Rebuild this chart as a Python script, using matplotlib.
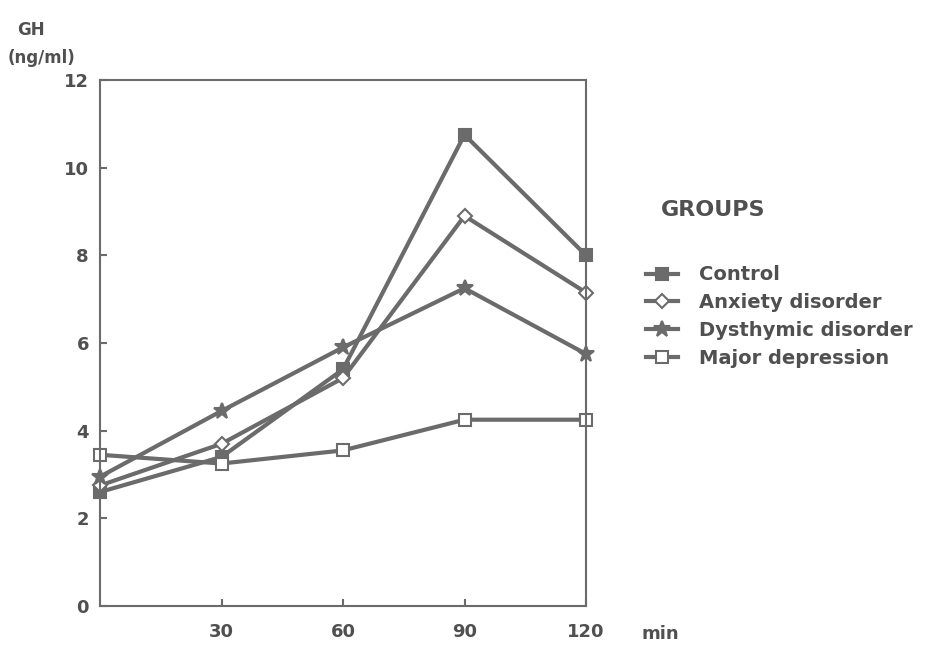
import matplotlib
matplotlib.use('Agg')
import matplotlib.pyplot as plt

### data
minutes = [0, 30, 60, 90, 120]
groups = ['Control', 'Anxiety disorder', 'Dysthymic disorder', 'Major depression']
control = [2.6, 3.4, 5.4, 10.75, 8.0]
anxiety = [2.75, 3.7, 5.2, 8.9, 7.15]
dysthymic = [2.95, 4.45, 5.9, 7.25, 5.75]
major_dep = [3.45, 3.25, 3.55, 4.25, 4.25]

xticks = [30, 60, 90, 120]
yticks = [0, 2, 4, 6, 8, 10, 12]

### style
gray = '#6b6b6b'
txt = '#505050'
plt.rcParams['font.family'] = ['DejaVu Sans']
plt.rcParams['font.weight'] = 'bold'

fig = plt.figure(figsize=(9.27, 6.48), dpi=100)
ax = fig.add_axes([100 / 927, 42 / 648, 486 / 927, 526 / 648])

series = [control, anxiety, dysthymic, major_dep]
markers = [
    dict(marker='s', markerfacecolor=gray, markersize=8),
    dict(marker='D', markerfacecolor='white', markersize=7.5),
    dict(marker='*', markerfacecolor=gray, markersize=12),
    dict(marker='s', markerfacecolor='white', markersize=9),
]
for vals, name, mk in zip(series, groups, markers):
    ax.plot(minutes, vals, color=gray, linewidth=3.0, markeredgecolor=gray,
            markeredgewidth=1.5, label=name, clip_on=False, **mk)

ax.set_xlim(0, 120)
ax.set_ylim(0, 12)
ax.set_xticks(xticks)
ax.set_yticks(yticks)
ax.tick_params(direction='in', length=5, width=1.5, color=gray,
               labelsize=13, labelcolor=txt, pad=12)
ax.tick_params(axis='y', pad=8)
for sp_ in ax.spines.values():
    sp_.set_color(gray)
    sp_.set_linewidth(1.5)
for lab in ax.get_xticklabels() + ax.get_yticklabels():
    lab.set_fontweight('bold')

fig.text(17 / 927, 1 - 30 / 648, 'GH', fontsize=12, color=txt, fontweight='bold', va='center')
fig.text(8 / 927, 1 - 58 / 648, '(ng/ml)', fontsize=12, color=txt, fontweight='bold', va='center')
fig.text(660 / 927, 1 - 634 / 648, 'min', fontsize=13, color=txt, fontweight='bold',
         ha='center', va='center')

fig.text(713 / 927, 1 - 210 / 648, 'GROUPS', fontsize=16, color=txt, fontweight='bold',
         ha='center', va='center')
leg = ax.legend(loc='upper left', bbox_to_anchor=(628 / 927, 1 - 248 / 648),
                bbox_transform=fig.transFigure, frameon=False, fontsize=14,
                handlelength=1.65, handletextpad=1.1, labelspacing=0.45)
for t in leg.get_texts():
    t.set_color(txt)
    t.set_fontweight('bold')

plt.savefig('out.png', dpi=100)
